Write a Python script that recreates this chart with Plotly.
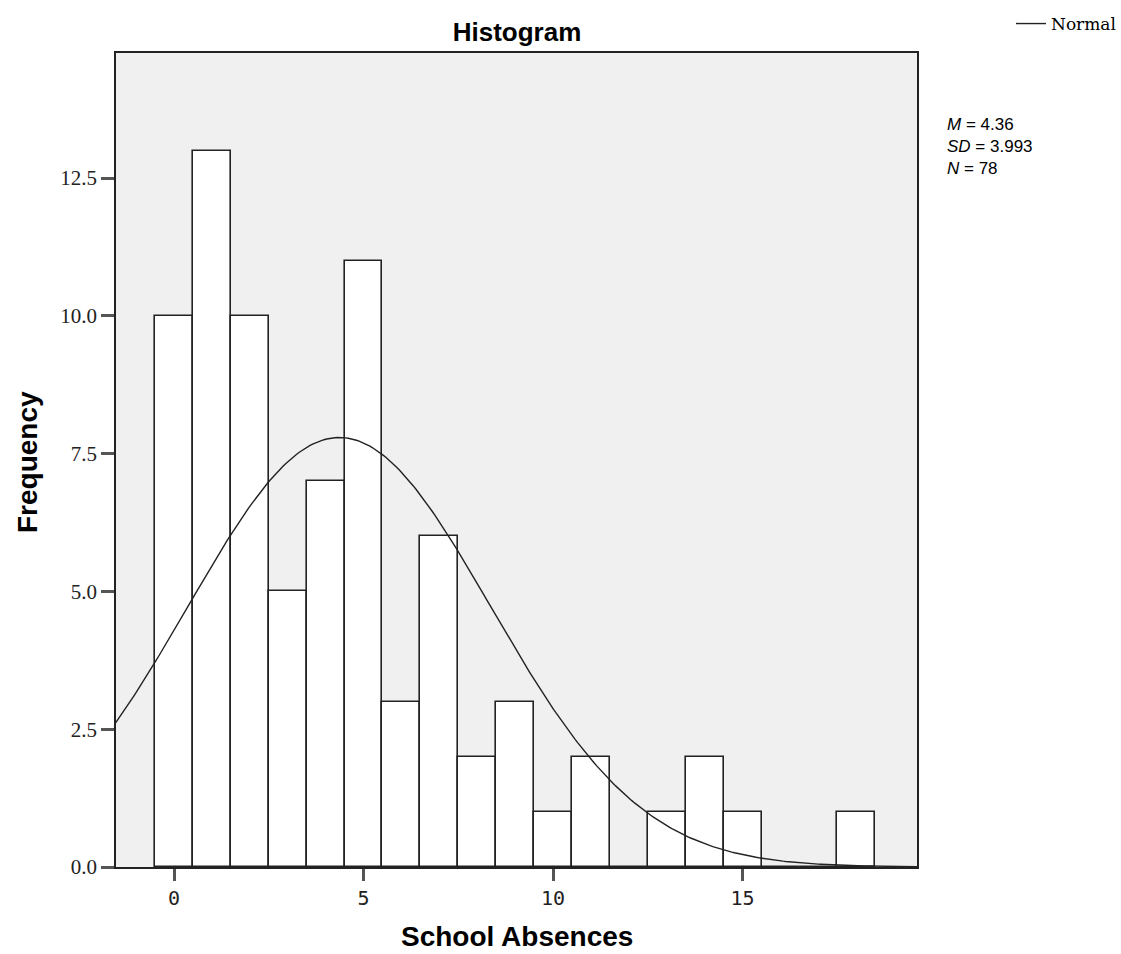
import numpy as np
import plotly.graph_objects as go

absences = list(range(0, 19))
frequency = [10, 13, 10, 5, 7, 11, 3, 6, 2, 3, 1, 2, 0, 1, 2, 1, 0, 0, 1]
x_ticks = [0, 5, 10, 15]
y_ticks = [0.0, 2.5, 5.0, 7.5, 10.0, 12.5]
y_tick_labels = ["0.0", "2.5", "5.0", "7.5", "10.0", "12.5"]
M, SD, N = 4.36, 3.993, 78
bin_width = 1

xs = np.linspace(-1.6, 19.7, 300)
normal_y = N * bin_width * np.exp(-0.5 * ((xs - M) / SD) ** 2) / (SD * np.sqrt(2 * np.pi))

L, R, T, B = 116, 917, 53, 867
W, H = 1121, 954

fig = go.Figure()
fig.add_trace(go.Bar(
    x=absences, y=frequency, width=bin_width,
    marker=dict(color="white", line=dict(color="#222222", width=1.6)),
    showlegend=False, hoverinfo="x+y",
))
fig.add_trace(go.Scatter(
    x=xs, y=normal_y, mode="lines", name="Normal",
    line=dict(color="#222222", width=1.4),
))

fig.update_layout(
    width=W, height=H,
    margin=dict(l=L, r=W - R, t=T, b=H - B),
    paper_bgcolor="white", plot_bgcolor="#f0f0f0",
    bargap=0,
    title=dict(text="<b>Histogram</b>", x=517 / W, xanchor="center", y=1 - 32 / H, yanchor="middle",
               font=dict(family="Liberation Sans, Arial", size=26, color="black")),
    legend=dict(x=1.0, xref="container", y=1 - 6 / H, yref="container", xanchor="right", yanchor="top",
                font=dict(family="DejaVu Serif", size=17, color="black"),
                bgcolor="rgba(0,0,0,0)", itemwidth=30),
    showlegend=True,
)
fig.update_xaxes(
    range=[-1.53, 19.6], tickvals=x_ticks, ticktext=[str(t) for t in x_ticks],
    ticks="outside", ticklen=12, tickwidth=2.5, tickcolor="#555555",
    showgrid=False, zeroline=False, automargin=False,
    showline=True, linecolor="#222222", linewidth=1.6, mirror=True,
    tickfont=dict(family="DejaVu Sans Mono", size=20, color="#222222"),
)
fig.update_yaxes(
    range=[0, 14.77], tickvals=y_ticks, ticktext=y_tick_labels,
    ticks="outside", ticklen=13, tickwidth=2.5, tickcolor="#555555",
    showgrid=False, zeroline=False, automargin=False,
    showline=True, linecolor="#222222", linewidth=1.6, mirror=True,
    tickfont=dict(family="Liberation Serif", size=21, color="#222222"),
)
pw, ph = R - L, B - T
fig.add_annotation(
    x=(517 - L) / pw, xref="paper", y=(B - 936) / ph, yref="paper", showarrow=False,
    text="<b>School Absences</b>", xanchor="center", yanchor="middle",
    font=dict(family="Liberation Sans, Arial", size=28, color="black"),
)
fig.add_annotation(
    x=(27 - L) / pw, xref="paper", y=(B - 462) / ph, yref="paper", showarrow=False,
    text="<b>Frequency</b>", textangle=-90, xanchor="center", yanchor="middle",
    font=dict(family="Liberation Sans, Arial", size=28, color="black"),
)
fig.add_annotation(
    x=(945 - L) / pw, xref="paper", y=(B - 113) / ph, yref="paper", showarrow=False,
    text=f"<i>M</i> = {M}<br><i>SD</i> = {SD}<br><i>N</i> = {N}",
    align="left", xanchor="left", yanchor="top",
    font=dict(family="Liberation Sans, Arial", size=17, color="black"),
)
fig.write_html("out.html")
